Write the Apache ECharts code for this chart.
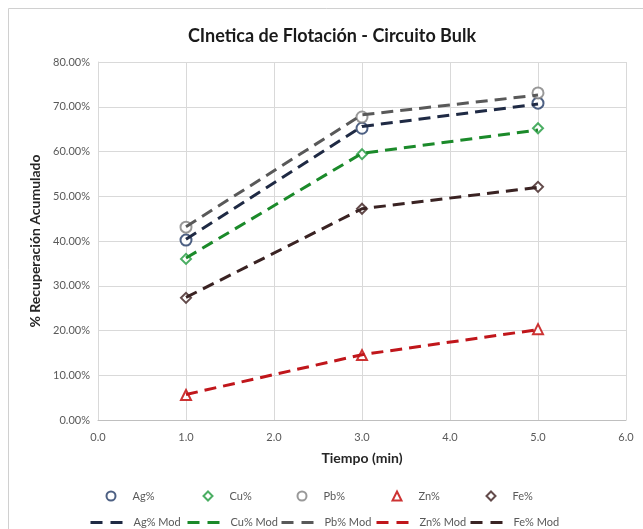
<!DOCTYPE html>
<html>
<head>
<meta charset="utf-8">
<script src="https://cdn.jsdelivr.net/npm/echarts@6/dist/echarts.min.js"></script>
<style>
  html, body { margin: 0; padding: 0; background: #fff; }
  #chart { width: 643px; height: 529px; }
</style>
</head>
<body>
<div id="chart"></div>
<script>
// Flotation kinetics, bulk circuit: cumulative recovery (%) vs time (min)
const times = [1.0, 3.0, 5.0];
const xTicks = [0, 1, 2, 3, 4, 5, 6];
const yTicks = [0, 10, 20, 30, 40, 50, 60, 70, 80];

// Measured recoveries
const agPct = [40.2, 65.2, 70.8];
const cuPct = [36.0, 59.4, 65.2];
const pbPct = [43.1, 67.7, 73.1];
const znPct = [5.6, 14.5, 20.3];
const fePct = [27.3, 47.2, 52.1];

// Kinetic model fits
const agMod = [40.4, 65.6, 70.6];
const cuMod = [36.2, 59.6, 64.8];
const pbMod = [43.2, 68.2, 72.6];
const znMod = [5.7, 14.6, 20.2];
const feMod = [27.4, 47.2, 52.0];

const measuredNames = ['Ag%', 'Cu%', 'Pb%', 'Zn%', 'Fe%'];
const modelNames = ['Ag% Mod', 'Cu% Mod', 'Pb% Mod', 'Zn% Mod', 'Fe% Mod'];

const pts = vals => vals.map((v, i) => [times[i], v]);
const FONT = 'Lato, "Liberation Sans", sans-serif';

function measured(name, vals, symbol, color, size) {
  return {
    name, type: 'scatter', data: pts(vals), symbol, symbolSize: size,
    itemStyle: { color: '#fff', borderColor: color, borderWidth: 2 },
    z: 3
  };
}
function model(name, vals, color) {
  return {
    name, type: 'line', data: pts(vals), symbol: 'none', showSymbol: false,
    lineStyle: { color, width: 3, type: [12, 7] },
    itemStyle: { color },
    z: 4
  };
}

// Legend laid out as a 5-column, 2-row table: one legend component per entry
const legendTextX = [132, 229, 323, 418, 512];
const legendText = { fontFamily: FONT, fontSize: 11, color: '#595959' };
const legends = [];
measuredNames.forEach((name, i) => legends.push({
  data: [name], left: legendTextX[i] - 26.5, top: 490.5, padding: 0,
  itemWidth: 9, itemHeight: 9,
  textStyle: Object.assign({ padding: [0, 0, 0, 12] }, legendText)
}));
modelNames.forEach((name, i) => legends.push({
  data: [name], left: legendTextX[i] - 43, top: 517, padding: 0,
  itemWidth: 32, itemHeight: 12,
  itemStyle: { opacity: 0 },
  lineStyle: { width: 3, type: [12, 8] },
  textStyle: Object.assign({ padding: [0, 0, 0, 6] }, legendText)
}));

const chart = echarts.init(document.getElementById('chart'), null, { renderer: 'canvas' });
chart.setOption({
  animation: false,
  backgroundColor: '#fff',
  title: {
    text: 'CInetica de Flotación - Circuito Bulk',
    left: 327, top: 22, textAlign: 'center',
    textStyle: { fontFamily: FONT, fontSize: 18, fontWeight: 'bold', color: '#1a1a1a' }
  },
  graphic: [{
    type: 'rect', shape: { x: 8.5, y: 8.5, width: 660, height: 560 },
    style: { fill: 'none', stroke: '#d0d0d0', lineWidth: 1 }, silent: true, z: -1
  }],
  grid: { left: 98, right: 17, top: 62, bottom: 109 },
  xAxis: {
    type: 'value', min: xTicks[0], max: xTicks[xTicks.length - 1], interval: 1,
    name: 'Tiempo (min)', nameLocation: 'middle', nameGap: 31,
    nameTextStyle: { fontFamily: FONT, fontSize: 14, fontWeight: 'bold', color: '#262626' },
    axisLine: { lineStyle: { color: '#bfbfbf' } },
    axisTick: { show: false },
    axisLabel: { fontFamily: FONT, fontSize: 11, color: '#595959', margin: 12,
      formatter: v => v.toFixed(1) },
    splitLine: { show: true, lineStyle: { color: '#d9d9d9' } }
  },
  yAxis: {
    type: 'value', min: yTicks[0], max: yTicks[yTicks.length - 1], interval: 10,
    name: '% Recuperación Acumulado', nameLocation: 'middle', nameGap: 55,
    nameTextStyle: { fontFamily: FONT, fontSize: 14, fontWeight: 'bold', color: '#262626' },
    axisLine: { show: true, lineStyle: { color: '#d9d9d9' } },
    axisTick: { show: false },
    axisLabel: { fontFamily: FONT, fontSize: 11, color: '#595959', margin: 8,
      formatter: v => v.toFixed(2) + '%' },
    splitLine: { show: true, lineStyle: { color: '#d9d9d9' } }
  },
  legend: legends,
  series: [
    measured(measuredNames[0], agPct, 'circle', '#203864', 11),
    measured(measuredNames[1], cuPct, 'diamond', '#1e9a3c', 10),
    measured(measuredNames[2], pbPct, 'circle', '#7f7f7f', 11),
    measured(measuredNames[3], znPct, 'triangle', '#c00000', 10),
    measured(measuredNames[4], fePct, 'diamond', '#3c1e1e', 10),
    model(modelNames[0], agMod, '#1f2a44'),
    model(modelNames[1], cuMod, '#1b8a2a'),
    model(modelNames[2], pbMod, '#595959'),
    model(modelNames[3], znMod, '#c0161b'),
    model(modelNames[4], feMod, '#3a2323')
  ]
});
</script>
</body>
</html>
